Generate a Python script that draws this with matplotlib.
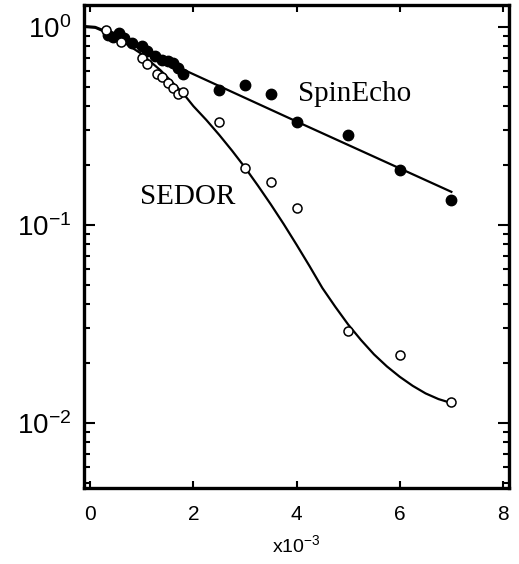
import matplotlib
matplotlib.use("Agg")
import matplotlib.pyplot as plt
from matplotlib.ticker import FixedLocator, LogLocator, NullFormatter

plt.rcParams['font.family'] = ['Liberation Sans', 'DejaVu Sans']
plt.rcParams['mathtext.fontset'] = 'custom'
plt.rcParams['mathtext.rm'] = 'Liberation Sans'
plt.rcParams['mathtext.it'] = 'Liberation Sans'

# spin echo data (filled)
spin_x = [0.35, 0.45, 0.55, 0.65, 0.8, 1.0, 1.1, 1.25, 1.4, 1.5, 1.6, 1.7, 1.8,
          2.5, 3.0, 3.5, 4.0, 5.0, 6.0, 7.0]
spin_y = [0.91, 0.89, 0.93, 0.88, 0.83, 0.80, 0.76, 0.71, 0.68, 0.67, 0.66, 0.62, 0.58,
          0.48, 0.51, 0.46, 0.33, 0.286, 0.19, 0.134]

# SEDOR data (open)
sedor_x = [0.3, 0.6, 1.0, 1.1, 1.3, 1.4, 1.5, 1.6, 1.7, 1.8,
           2.5, 3.0, 3.5, 4.0, 5.0, 6.0, 7.0]
sedor_y = [0.97, 0.84, 0.70, 0.65, 0.58, 0.56, 0.52, 0.49, 0.46, 0.47,
           0.33, 0.195, 0.165, 0.122, 0.029, 0.022, 0.0128]

# fit curves
spin_fit_x = [-0.1, 0.1, 0.3, 1.74, 4.0, 7.0]
spin_fit_y = [1.0, 0.99, 0.94, 0.62, 0.333, 0.147]

sedor_fit_x = [-0.1, 0.1, 0.29, 0.58, 0.97, 1.36, 1.8, 2.0, 2.25, 2.5, 2.75, 3.0, 3.25,
               3.5, 3.75, 4.0, 4.25, 4.5, 4.75, 5.0, 5.25, 5.5, 5.75, 6.0, 6.25,
               6.5, 6.75, 7.0]
sedor_fit_y = [1.01, 1.0, 0.955, 0.86, 0.738, 0.605, 0.462, 0.398, 0.339, 0.285, 0.237,
               0.195, 0.158, 0.127, 0.101, 0.0794, 0.062, 0.048, 0.0386, 0.0314, 0.0262,
               0.0222, 0.0193, 0.0171, 0.0154, 0.0141, 0.0132, 0.0126]

xticks = [0, 2, 4, 6, 8]
yticks = [0.01, 0.1, 1.0]
ylabels = ['$10^{-2}$', '$10^{-1}$', '$10^{0}$']

fig = plt.figure(figsize=(5.19, 5.64), dpi=100)
ax = fig.add_axes([0.162, 0.135, 0.819, 0.856])

ax.plot(spin_fit_x, spin_fit_y, color='black', lw=1.6)
ax.plot(sedor_fit_x, sedor_fit_y, color='black', lw=1.6)
ax.plot(spin_x, spin_y, 'o', color='black', ms=7.5)
ax.plot(sedor_x, sedor_y, 'o', mfc='white', mec='black', mew=1.1, ms=6.5)

ax.set_yscale('log')
ax.set_xlim(-0.12, 8.12)
ax.set_ylim(0.0047, 1.29)

ax.xaxis.set_major_locator(FixedLocator(xticks))
ax.set_yticks(yticks)
ax.set_yticklabels(ylabels)
ax.yaxis.set_minor_locator(LogLocator(base=10, subs=range(2, 10)))
ax.yaxis.set_minor_formatter(NullFormatter())

ax.tick_params(axis='both', which='both', direction='in', top=True, right=True, width=1.5)
ax.tick_params(axis='y', which='major', length=8, labelsize=20, pad=9)
ax.tick_params(axis='y', which='minor', length=4)
ax.tick_params(axis='x', which='major', length=5, labelsize=15, pad=12)
for s in ax.spines.values():
    s.set_linewidth(2.4)

ax.set_xlabel('x10$^{-3}$', fontsize=14, labelpad=8)

ax.text(4.03, 0.46, 'SpinEcho', family='Liberation Serif', fontsize=21, va='center')
ax.text(0.97, 0.138, 'SEDOR', family='Liberation Serif', fontsize=21, va='center')

fig.savefig('out.png', dpi=100)
